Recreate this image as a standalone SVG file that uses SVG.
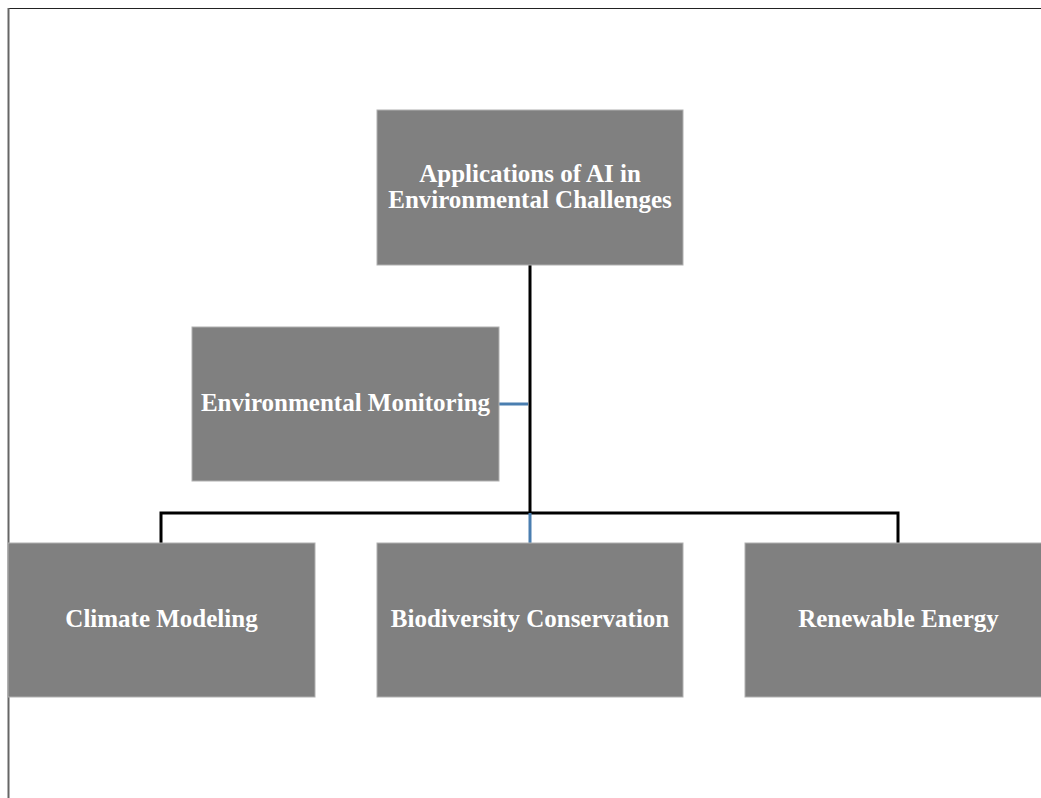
<svg xmlns="http://www.w3.org/2000/svg" width="1041" height="798" viewBox="0 0 1041 798">
<style>
.box{fill:#808080;stroke:#b0b0b0;stroke-width:1}
.t{font-family:"Liberation Serif","Times New Roman",serif;font-weight:bold;font-size:25px;fill:#ffffff;text-anchor:middle}
.k{stroke:#000000;stroke-width:3;fill:none}
.b{stroke:#4a7eb0;stroke-width:3;fill:none}
</style>
<rect width="1041" height="798" fill="#ffffff"/>
<line x1="8" y1="8.5" x2="1041" y2="8.5" stroke="#222222" stroke-width="1"/>
<line x1="8.5" y1="8" x2="8.5" y2="798" stroke="#666666" stroke-width="2"/>
<g id="connectors">
<path class="k" d="M530,265 V513 M161,543 V513 H898 V543"/>
<path class="b" d="M530,513 V543 M499,404 H528"/>
</g>
<g id="root"><rect class="box" x="377" y="110" width="306" height="155"/>
<text class="t" x="530" y="182">Applications of AI in</text>
<text class="t" x="530" y="208">Environmental Challenges</text></g>
<g id="monitoring"><rect class="box" x="192" y="327" width="307" height="154"/>
<text class="t" x="345.5" y="411">Environmental Monitoring</text></g>
<g id="climate"><rect class="box" x="8" y="543" width="307" height="154"/>
<text class="t" x="161.5" y="627">Climate Modeling</text></g>
<g id="biodiversity"><rect class="box" x="377" y="543" width="306" height="154"/>
<text class="t" x="530" y="627">Biodiversity Conservation</text></g>
<g id="renewable"><rect class="box" x="745" y="543" width="307" height="154"/>
<text class="t" x="898.5" y="627">Renewable Energy</text></g>
</svg>
